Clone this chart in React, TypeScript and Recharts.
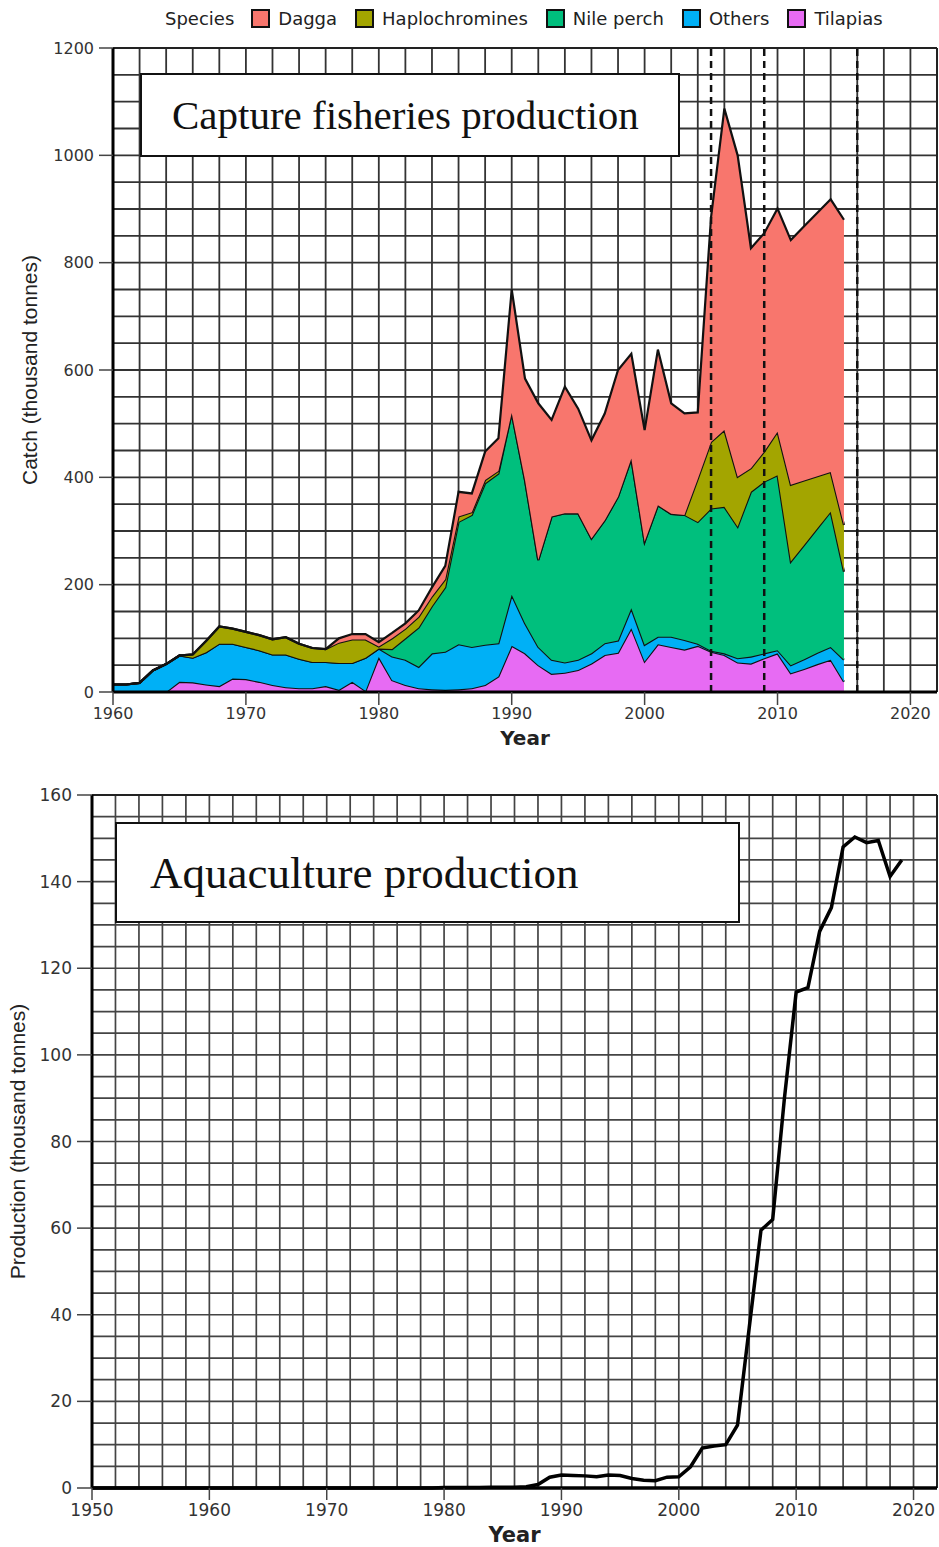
import React from 'react';
import {
  AreaChart,
  Area,
  LineChart,
  Line,
  XAxis,
  YAxis,
  CartesianGrid,
  ReferenceLine,
  Label,
} from 'recharts';

// ---------- Capture fisheries (thousand tonnes), 1960-2015 ----------
const captureYears = [
  1960, 1961, 1962, 1963, 1964, 1965, 1966, 1967, 1968, 1969,
  1970, 1971, 1972, 1973, 1974, 1975, 1976, 1977, 1978, 1979,
  1980, 1981, 1982, 1983, 1984, 1985, 1986, 1987, 1988, 1989,
  1990, 1991, 1992, 1993, 1994, 1995, 1996, 1997, 1998, 1999,
  2000, 2001, 2002, 2003, 2004, 2005, 2006, 2007, 2008, 2009,
  2010, 2011, 2012, 2013, 2014, 2015,
];
const tilapias = [
  0, 0, 0, 0, 0, 19, 18, 14, 11, 25,
  24, 19, 13, 9, 7, 7, 11, 4, 19, 2,
  65, 22, 13, 7, 5, 4, 5, 7, 13, 29,
  86, 72, 50, 34, 36, 41, 53, 69, 73, 119,
  57, 89, 84, 79, 86, 75, 69, 55, 53, 63,
  72, 35, 43, 52, 60, 19,
];
const others = [
  14, 14, 17, 40, 52, 49, 46, 60, 79, 65,
  60, 59, 57, 61, 55, 49, 45, 50, 35, 62,
  16, 44, 47, 40, 67, 71, 84, 77, 75, 62,
  95, 56, 34, 26, 19, 19, 19, 22, 23, 37,
  31, 14, 19, 18, 4, 2, 3, 8, 13, 9,
  6, 15, 18, 21, 24, 41,
];
const nilePerch = [
  0, 0, 0, 0, 0, 0, 0, 0, 0, 0,
  0, 0, 0, 0, 0, 0, 0, 0, 0, 0,
  0, 14, 40, 73, 88, 120, 228, 246, 301, 316,
  339, 267, 162, 267, 278, 273, 214, 229, 268, 279,
  192, 245, 229, 233, 227, 265, 273, 245, 307, 320,
  326, 193, 213, 232, 252, 164,
];
const haplochromines = [
  0, 0, 0, 0, 0, 0, 6, 21, 32, 28,
  28, 28, 28, 32, 28, 26, 24, 38, 44, 34,
  4, 20, 18, 20, 18, 15, 10, 5, 6, 5,
  0, 0, 0, 0, 0, 0, 0, 0, 0, 0,
  0, 0, 0, 0, 80, 124, 143, 93, 44, 56,
  81, 143, 120, 97, 74, 87,
];
const dagga = [
  0, 0, 0, 0, 0, 0, 0, 0, 0, 0,
  0, 0, 0, 0, 0, 0, 0, 8, 10, 10,
  8, 10, 10, 12, 17, 25, 46, 35, 53, 61,
  230, 189, 292, 180, 236, 195, 183, 199, 236, 195,
  208, 290, 206, 189, 124, 419, 599, 599, 410, 407,
  416, 456, 474, 491, 508, 569,
];

// ---------- Aquaculture (thousand tonnes), 1950-2019 ----------
const aquaYears = [
  1950, 1951, 1952, 1953, 1954, 1955, 1956, 1957, 1958, 1959,
  1960, 1961, 1962, 1963, 1964, 1965, 1966, 1967, 1968, 1969,
  1970, 1971, 1972, 1973, 1974, 1975, 1976, 1977, 1978, 1979,
  1980, 1981, 1982, 1983, 1984, 1985, 1986, 1987, 1988, 1989,
  1990, 1991, 1992, 1993, 1994, 1995, 1996, 1997, 1998, 1999,
  2000, 2001, 2002, 2003, 2004, 2005, 2006, 2007, 2008, 2009,
  2010, 2011, 2012, 2013, 2014, 2015, 2016, 2017, 2018, 2019,
];
const aquaProduction = [
  0, 0, 0, 0, 0, 0, 0, 0, 0, 0,
  0, 0, 0, 0, 0, 0, 0, 0, 0, 0,
  0, 0, 0, 0, 0, 0, 0, 0, 0, 0,
  0.1, 0.1, 0.1, 0.1, 0.2, 0.2, 0.2, 0.3, 0.8, 2.5,
  3.0, 2.9, 2.8, 2.6, 3.0, 2.9, 2.2, 1.8, 1.7, 2.5,
  2.6, 4.9, 9.2, 9.7, 10.0, 14.5, 37, 59.5, 62, 90,
  114.5, 115.5, 128.5, 134, 148, 150.3, 149, 149.5, 141.2, 145,
];

// ---------- Axis ticks / legend ----------
const captureXTicks = [1960, 1970, 1980, 1990, 2000, 2010, 2020];
const captureYTicks = [0, 200, 400, 600, 800, 1000, 1200];
const aquaXTicks = [1950, 1960, 1970, 1980, 1990, 2000, 2010, 2020];
const aquaYTicks = [0, 20, 40, 60, 80, 100, 120, 140, 160];
const periodLines = [2005, 2009, 2016];

const legendItems = [
  { name: 'Dagga', color: '#F8766D' },
  { name: 'Haplochromines', color: '#A3A500' },
  { name: 'Nile perch', color: '#00BF7D' },
  { name: 'Others', color: '#00B0F6' },
  { name: 'Tilapias', color: '#E76BF3' },
];

const stepRange = (from: number, to: number, step: number) => {
  const out: number[] = [];
  for (let v = from; v <= to + 1e-9; v += step) out.push(v);
  return out;
};

const captureData = captureYears.map((year, i) => ({
  year,
  tilapias: tilapias[i],
  others: others[i],
  nilePerch: nilePerch[i],
  haplochromines: haplochromines[i],
  dagga: dagga[i],
}));

const aquaData = aquaYears.map((year, i) => ({ year, production: aquaProduction[i] }));

const TICK_FONT = 'DejaVu Sans, sans-serif';
const LABEL_FONT = 'Liberation Sans, Arial, sans-serif';
const SERIF = 'Liberation Serif, Times New Roman, serif';
const GRID = '#333333';

export default function App() {
  return (
    <div
      style={{
        position: 'absolute',
        left: 0,
        top: 0,
        width: 939,
        height: 1547,
        background: '#fff',
        overflow: 'hidden',
      }}
    >
      {/* Legend */}
      <div
        style={{
          position: 'absolute',
          left: 165,
          top: 8,
          height: 20,
          display: 'flex',
          alignItems: 'center',
          fontFamily: TICK_FONT,
          fontSize: 18,
          color: '#222',
          whiteSpace: 'nowrap',
        }}
      >
        <span style={{ marginRight: 17 }}>Species</span>
        {legendItems.map((it) => (
          <span key={it.name} style={{ display: 'flex', alignItems: 'center', marginRight: 18 }}>
            <span
              style={{
                display: 'inline-block',
                width: 15,
                height: 15,
                background: it.color,
                border: '2px solid #111',
                marginRight: 8,
              }}
            />
            <span>{it.name}</span>
          </span>
        ))}
      </div>

      {/* Capture chart */}
      <div style={{ position: 'absolute', left: 0, top: 0 }}>
        <AreaChart
          width={939}
          height={760}
          data={captureData}
          margin={{ top: 48, right: 2, bottom: 0, left: 0 }}
        >
          <CartesianGrid
            stroke={GRID}
            strokeWidth={1.8}
            horizontalValues={stepRange(0, 1200, 50)}
            verticalValues={stepRange(1960, 2022, 2)}
          />
          <XAxis
            dataKey="year"
            type="number"
            domain={[1960, 2022]}
            ticks={captureXTicks}
            interval={0}
            height={68}
            tickSize={13}
            tickMargin={3}
            axisLine={{ stroke: '#000', strokeWidth: 3 }}
            tickLine={{ stroke: '#444', strokeWidth: 1.5 }}
            tick={{ fontSize: 16, fill: '#333', fontFamily: TICK_FONT }}
          >
            <Label
              value="Year"
              position="insideBottom"
              offset={15}
              style={{ fontSize: 20, fontWeight: 'bold', fill: '#222', fontFamily: TICK_FONT }}
            />
          </XAxis>
          <YAxis
            type="number"
            domain={[0, 1200]}
            ticks={captureYTicks}
            interval={0}
            width={113}
            tickSize={14}
            tickMargin={5}
            axisLine={{ stroke: '#000', strokeWidth: 3 }}
            tickLine={{ stroke: '#444', strokeWidth: 1.5 }}
            tick={{ fontSize: 16, fill: '#333', fontFamily: TICK_FONT }}
          >
            <Label
              value="Catch (thousand tonnes)"
              angle={-90}
              position="insideLeft"
              offset={30}
              style={{ textAnchor: 'middle', fontSize: 21, fill: '#222', fontFamily: LABEL_FONT }}
            />
          </YAxis>
          <Area type="linear" dataKey="tilapias" stackId="s" stroke="#111" strokeWidth={2.2} fill="#E76BF3" fillOpacity={1} isAnimationActive={false} />
          <Area type="linear" dataKey="others" stackId="s" stroke="#111" strokeWidth={2.2} fill="#00B0F6" fillOpacity={1} isAnimationActive={false} />
          <Area type="linear" dataKey="nilePerch" stackId="s" stroke="#111" strokeWidth={2.2} fill="#00BF7D" fillOpacity={1} isAnimationActive={false} />
          <Area type="linear" dataKey="haplochromines" stackId="s" stroke="#111" strokeWidth={2.2} fill="#A3A500" fillOpacity={1} isAnimationActive={false} />
          <Area type="linear" dataKey="dagga" stackId="s" stroke="#111" strokeWidth={2.2} fill="#F8766D" fillOpacity={1} isAnimationActive={false} />
          {periodLines.map((yr) => (
            <ReferenceLine key={yr} x={yr} stroke="#111" strokeWidth={2.5} strokeDasharray="7 5" />
          ))}
          <ReferenceLine y={1200} stroke="#222" strokeWidth={2} />
          <ReferenceLine x={2022} stroke="#222" strokeWidth={2} />
        </AreaChart>
      </div>

      <div
        style={{
          position: 'absolute',
          left: 140,
          top: 73,
          width: 540,
          height: 84,
          boxSizing: 'border-box',
          border: '2px solid #111',
          background: '#fff',
          fontFamily: SERIF,
          fontSize: 41,
          color: '#111',
          display: 'flex',
          alignItems: 'center',
          paddingLeft: 30,
          whiteSpace: 'nowrap',
        }}
      >
        Capture fisheries production
      </div>

      {/* Aquaculture chart */}
      <div style={{ position: 'absolute', left: 0, top: 760 }}>
        <LineChart
          width={939}
          height={787}
          data={aquaData}
          margin={{ top: 35, right: 2, bottom: 0, left: 0 }}
        >
          <CartesianGrid
            stroke="#444444"
            strokeWidth={1.7}
            horizontalValues={stepRange(0, 160, 5)}
            verticalValues={stepRange(1950, 2022, 2)}
          />
          <XAxis
            dataKey="year"
            type="number"
            domain={[1950, 2022]}
            ticks={aquaXTicks}
            interval={0}
            height={59}
            tickSize={12}
            tickMargin={4}
            axisLine={{ stroke: '#000', strokeWidth: 3.5 }}
            tickLine={{ stroke: '#444', strokeWidth: 1.5 }}
            tick={{ fontSize: 17, fill: '#333', fontFamily: TICK_FONT }}
          >
            <Label
              value="Year"
              position="insideBottom"
              offset={5}
              style={{ fontSize: 21, fontWeight: 'bold', fill: '#222', fontFamily: TICK_FONT }}
            />
          </XAxis>
          <YAxis
            type="number"
            domain={[0, 160]}
            ticks={aquaYTicks}
            interval={0}
            width={92}
            tickSize={15}
            tickMargin={5}
            axisLine={{ stroke: '#000', strokeWidth: 3 }}
            tickLine={{ stroke: '#444', strokeWidth: 1.5 }}
            tick={{ fontSize: 17, fill: '#333', fontFamily: TICK_FONT }}
          >
            <Label
              value="Production (thousand tonnes)"
              angle={-90}
              position="insideLeft"
              offset={18}
              style={{ textAnchor: 'middle', fontSize: 21, fill: '#222', fontFamily: LABEL_FONT }}
            />
          </YAxis>
          <ReferenceLine y={160} stroke="#222" strokeWidth={2} />
          <ReferenceLine x={2022} stroke="#222" strokeWidth={2} />
          <Line
            type="linear"
            dataKey="production"
            stroke="#000"
            strokeWidth={3.5}
            dot={false}
            isAnimationActive={false}
          />
        </LineChart>
      </div>

      <div
        style={{
          position: 'absolute',
          left: 115,
          top: 822,
          width: 625,
          height: 101,
          boxSizing: 'border-box',
          border: '2px solid #111',
          background: '#fff',
          fontFamily: SERIF,
          fontSize: 45,
          color: '#111',
          display: 'flex',
          alignItems: 'center',
          paddingLeft: 33,
          whiteSpace: 'nowrap',
        }}
      >
        Aquaculture production
      </div>
    </div>
  );
}
